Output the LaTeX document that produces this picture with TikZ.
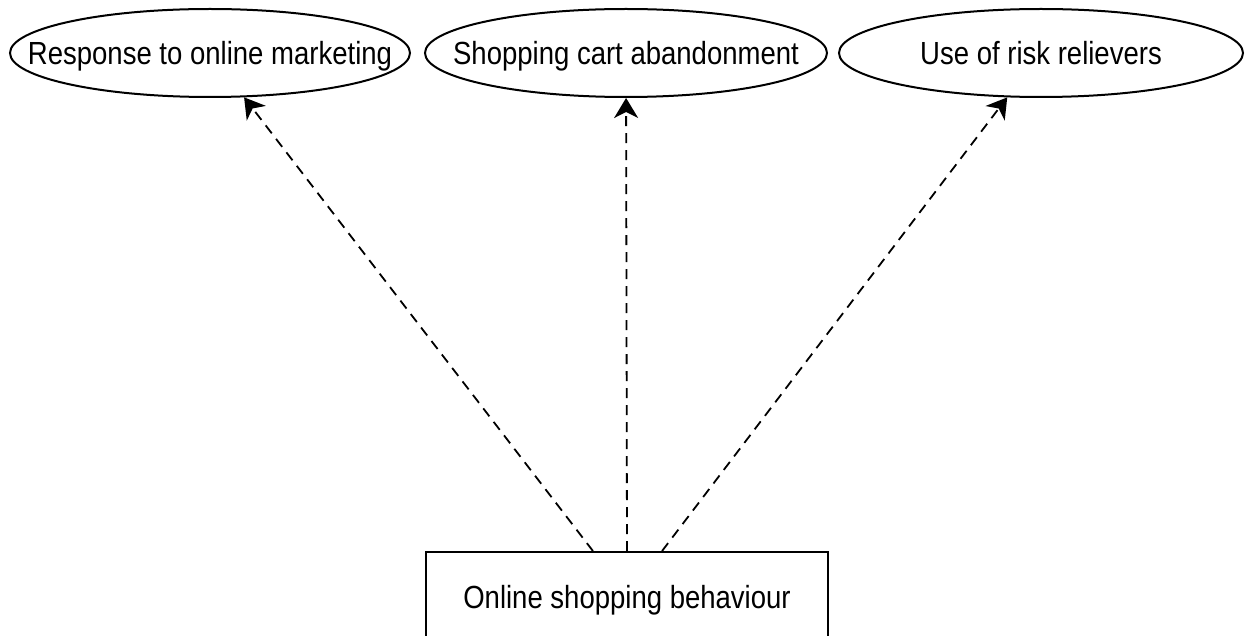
\documentclass[tikz,border=0pt]{standalone}
\usepackage{fontspec}
\setmainfont{Liberation Sans}[FakeStretch=0.86]
\usetikzlibrary{shapes.geometric,arrows.meta}
% label of fixed footprint: baseline a given distance below the node centre
\newcommand{\lbl}[2]{\raisebox{-#1}[0pt][0pt]{\makebox[0pt]{#2}}}
\begin{document}
\begin{tikzpicture}[x=0.5pt,y=-0.5pt,
  outcome/.style={ellipse,draw,line width=1pt,inner sep=0pt,
    minimum height=44pt,font=\fontsize{16}{19}\selectfont},
  behaviour/.style={rectangle,draw,line width=0.9pt,inner sep=0pt,
    minimum width=201pt,minimum height=45pt,font=\fontsize{16}{19}\selectfont},
  link/.style={line width=0.9pt,dash pattern=on 5pt off 3.5pt,
    -{Stealth[length=10pt,width=12pt,inset=3pt]}}]
\clip (0,0) rectangle (1254,636);
\fill[white] (0,0) rectangle (1254,636);

\node[outcome,minimum width=200pt] (e1) at (210,53) {\lbl{6pt}{Response to online marketing}};
\node[outcome,minimum width=201pt] (e2) at (626,53) {\lbl{6pt}{Shopping cart abandonment}};
\node[outcome,minimum width=202pt] (e3) at (1041,53) {\lbl{6pt}{Use of risk relievers}};

\node[behaviour] (b) at (627,597) {\lbl{5.5pt}{Online shopping behaviour}};

\coordinate (s1) at ([xshift=-17pt]b.north);
\coordinate (s2) at (b.north);
\coordinate (s3) at ([xshift=17.5pt]b.north);

\draw[link] (s1) -- (e1);
\draw[link] (s2) -- (e2);
\draw[link] (s3) -- (e3);
\end{tikzpicture}
\end{document}
